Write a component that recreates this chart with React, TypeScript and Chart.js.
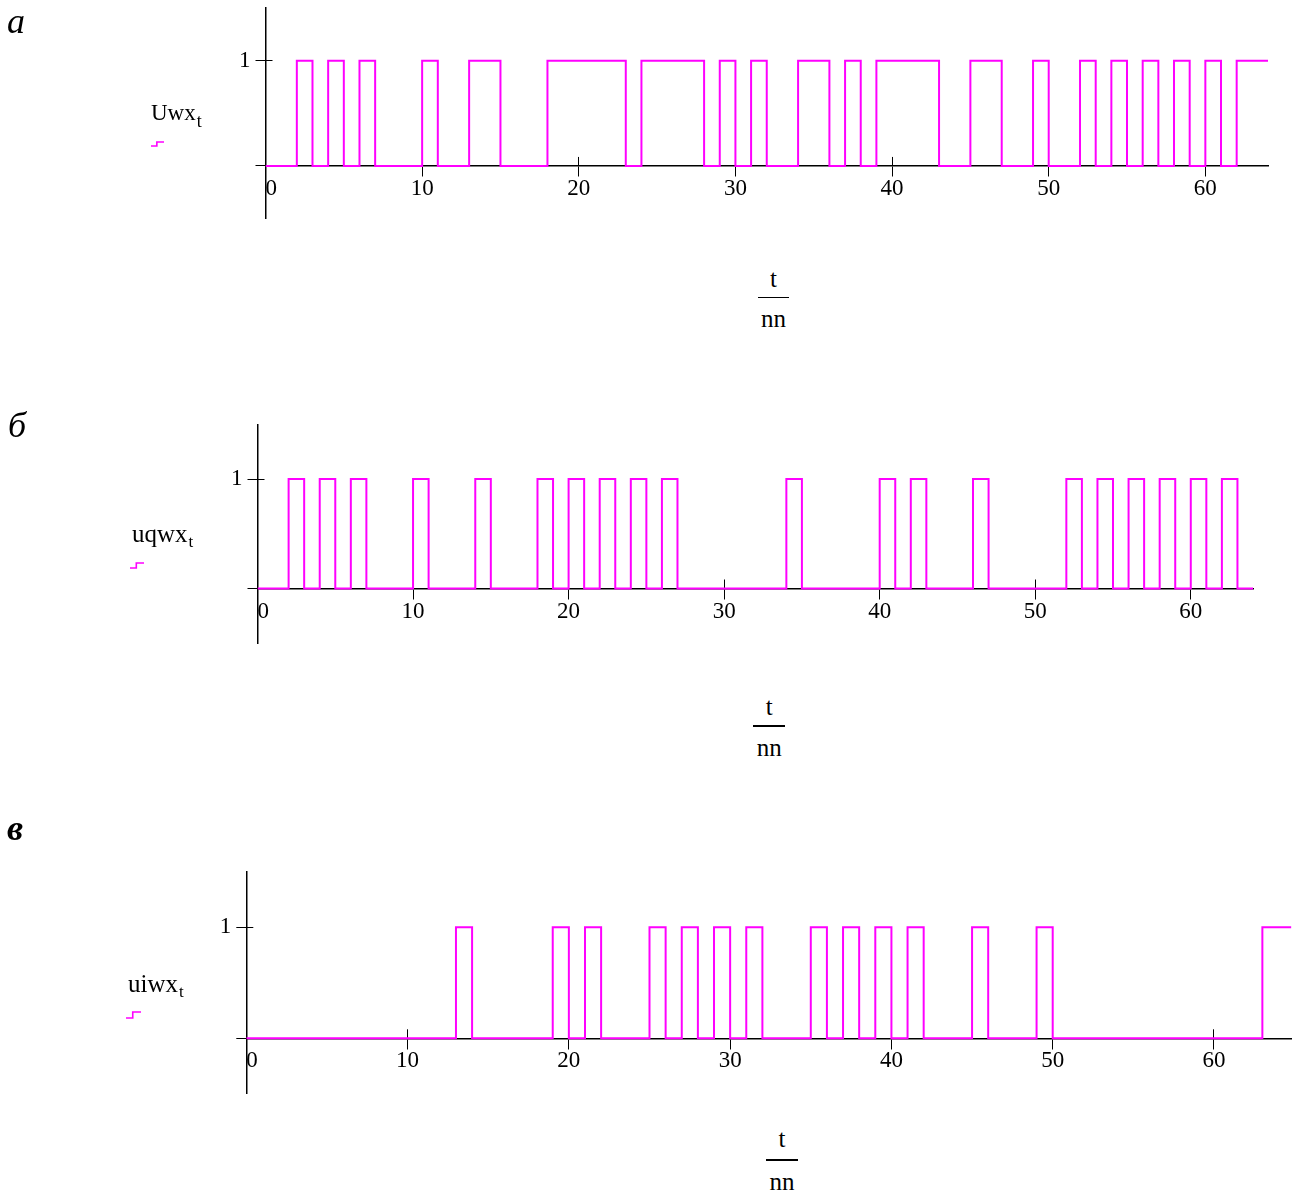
import React, { useEffect, useRef } from "react";
import { Chart, registerables } from "chart.js";

Chart.register(...registerables);

// Signal values for t = 0..63 (one value per unit of t/nn)
const uwxBits = [
  0, 0, 1, 0, 1, 0, 1, 0,
  0, 0, 1, 0, 0, 1, 1, 0,
  0, 0, 1, 1, 1, 1, 1, 0,
  1, 1, 1, 1, 0, 1, 0, 1,
  0, 0, 1, 1, 0, 1, 0, 1,
  1, 1, 1, 0, 0, 1, 1, 0,
  0, 1, 0, 0, 1, 0, 1, 0,
  1, 0, 1, 0, 1, 0, 1, 1,
];
const uqwxBits = [
  0, 0, 1, 0, 1, 0, 1, 0,
  0, 0, 1, 0, 0, 0, 1, 0,
  0, 0, 1, 0, 1, 0, 1, 0,
  1, 0, 1, 0, 0, 0, 0, 0,
  0, 0, 1, 0, 0, 0, 0, 0,
  1, 0, 1, 0, 0, 0, 1, 0,
  0, 0, 0, 0, 1, 0, 1, 0,
  1, 0, 1, 0, 1, 0, 1, 0,
];
const uiwxBits = [
  0, 0, 0, 0, 0, 0, 0, 0,
  0, 0, 0, 0, 0, 1, 0, 0,
  0, 0, 0, 1, 0, 1, 0, 0,
  0, 1, 0, 1, 0, 1, 0, 1,
  0, 0, 0, 1, 0, 1, 0, 1,
  0, 1, 0, 0, 0, 1, 0, 0,
  0, 1, 0, 0, 0, 0, 0, 0,
  0, 0, 0, 0, 0, 0, 0, 1,
];

const xTickValues = [0, 10, 20, 30, 40, 50, 60];
const yTickValues = [0, 1];
const yTickLabels = ["", "1"];
const panelLetters = ["а", "б", "в"];
const seriesNames = ["Uwx", "uqwx", "uiwx"];
const seriesSubscript = "t";
const xLabelNumerator = "t";
const xLabelDenominator = "nn";

const MAGENTA = "#ff00ff";
const SERIF = "'Liberation Serif', 'Times New Roman', serif";
const Y_BOX = 40;
const PAD_V = 30;
const CANVAS_W = 1340;

type Panel = {
  bits: number[];
  xMax: number;
  chartLeft: number;
  chartRight: number;
  chartTop: number;
  chartBottom: number;
  letter: string;
  letterLeft: number;
  letterBase: number;
  letterBold: boolean;
  name: string;
  nameLeft: number;
  nameBase: number;
  nameSize: number;
  subSize: number;
  subShift: number;
  glyphLeft: number;
  glyphHigh: number;
  glyphLow: number;
  glyphW: number;
  fracCx: number;
  fracTBase: number;
  fracLineY: number;
  fracLineW: number;
  fracNBase: number;
};

const panels: Panel[] = [
  {
    bits: uwxBits, xMax: 64,
    chartLeft: 265.5, chartRight: 1268, chartTop: 8, chartBottom: 218.6,
    letter: panelLetters[0], letterLeft: 7, letterBase: 33, letterBold: false,
    name: seriesNames[0], nameLeft: 151, nameBase: 120, nameSize: 23, subSize: 18, subShift: 7,
    glyphLeft: 151, glyphHigh: 142, glyphLow: 146, glyphW: 13,
    fracCx: 773.5, fracTBase: 287, fracLineY: 297.5, fracLineW: 31, fracNBase: 327,
  },
  {
    bits: uqwxBits, xMax: 64,
    chartLeft: 257.5, chartRight: 1253, chartTop: 424.25, chartBottom: 643.25,
    letter: panelLetters[1], letterLeft: 8, letterBase: 437, letterBold: false,
    name: seriesNames[1], nameLeft: 132, nameBase: 541.7, nameSize: 25, subSize: 17, subShift: 5,
    glyphLeft: 130, glyphHigh: 563, glyphLow: 568, glyphW: 14,
    fracCx: 769.2, fracTBase: 715, fracLineY: 726, fracLineW: 32, fracNBase: 756,
  },
  {
    bits: uiwxBits, xMax: 64.8,
    chartLeft: 246.3, chartRight: 1291.4, chartTop: 871.8, chartBottom: 1093.8,
    letter: panelLetters[2], letterLeft: 7, letterBase: 840, letterBold: true,
    name: seriesNames[2], nameLeft: 128, nameBase: 991.7, nameSize: 25, subSize: 17, subShift: 5,
    glyphLeft: 126, glyphHigh: 1012, glyphLow: 1018, glyphW: 15,
    fracCx: 782, fracTBase: 1147, fracLineY: 1160, fracLineW: 32, fracNBase: 1190,
  },
];

function align(pixel: number, width: number) {
  const h = width / 2;
  return Math.round(pixel - h) + h;
}

function PulseChart({ p }: { p: Panel }) {
  const ref = useRef<HTMLCanvasElement | null>(null);
  const canvasTop = Math.floor(p.chartTop - PAD_V);
  const canvasH = Math.ceil(p.chartBottom + PAD_V - canvasTop);

  useEffect(() => {
    const canvas = ref.current;
    if (!canvas) return;
    const pts = p.bits.map((b, t) => ({ x: t, y: b }));
    pts.push({ x: p.xMax, y: p.bits[p.bits.length - 1] });
    const tickFont = { family: SERIF, size: 23, lineHeight: 1 };

    const innerTicks = {
      id: "innerTicks",
      beforeDatasetsDraw(chart: any) {
        const xs = chart.scales.x;
        const ys = chart.scales.y;
        const ctx = chart.ctx;
        const y0 = ys.getPixelForValue(0);
        const x0 = xs.getPixelForValue(0);
        ctx.save();
        ctx.strokeStyle = "#000";
        ctx.lineWidth = 1;
        ctx.beginPath();
        for (const v of xTickValues) {
          if (v === 0) continue;
          const px = align(xs.getPixelForValue(v), 1);
          ctx.moveTo(px, y0);
          ctx.lineTo(px, y0 - 9);
        }
        for (const v of yTickValues) {
          if (v === 0) continue;
          const py = align(ys.getPixelForValue(v), 1);
          ctx.moveTo(x0, py);
          ctx.lineTo(x0 + 7, py);
        }
        ctx.stroke();
        ctx.restore();
      },
    };

    const chart = new Chart(canvas, {
      type: "line",
      data: {
        datasets: [
          {
            data: pts,
            borderColor: MAGENTA,
            borderWidth: 2,
            pointRadius: 0,
            stepped: "before",
            fill: false,
          },
        ],
      },
      options: {
        animation: false,
        responsive: false,
        maintainAspectRatio: false,
        devicePixelRatio: 1,
        events: [],
        layout: {
          padding: {
            left: p.chartLeft - Y_BOX,
            right: CANVAS_W - p.chartRight,
            top: p.chartTop - canvasTop,
            bottom: canvasTop + canvasH - p.chartBottom,
          },
        },
        plugins: {
          legend: { display: false },
          tooltip: { enabled: false },
        },
        scales: {
          x: {
            type: "linear",
            position: { y: 0 } as any,
            min: 0,
            max: p.xMax,
            afterBuildTicks: (s: any) => {
              s.ticks = [...xTickValues, p.xMax].map((v) => ({ value: v }));
            },
            border: { display: true, color: "#000", width: 1.5 },
            grid: {
              display: true,
              drawOnChartArea: false,
              drawTicks: true,
              tickLength: 10,
              lineWidth: 1,
              color: (c: any) =>
                c.tick && xTickValues.indexOf(c.tick.value) < 0 ? "rgba(0,0,0,0)" : "#000",
            },
            ticks: {
              align: "inner",
              autoSkip: false,
              maxRotation: 0,
              minRotation: 0,
              padding: 1.5,
              color: "#000",
              font: tickFont,
              callback: (v: any) => (xTickValues.indexOf(Number(v)) >= 0 ? String(v) : ""),
            },
          },
          y: {
            type: "linear",
            position: "left",
            min: -0.5,
            max: 1.5,
            afterFit: (s: any) => {
              s.width = Y_BOX;
            },
            afterBuildTicks: (s: any) => {
              s.ticks = yTickValues.map((v) => ({ value: v }));
            },
            border: { display: true, color: "#000", width: 1.5 },
            grid: {
              display: true,
              drawOnChartArea: false,
              drawTicks: true,
              tickLength: 10,
              lineWidth: 1,
              color: "#000",
            },
            ticks: {
              padding: 5,
              color: "#000",
              font: tickFont,
              callback: (v: any) => {
                const i = yTickValues.indexOf(Number(v));
                return i >= 0 ? yTickLabels[i] : "";
              },
            },
          },
        },
      },
      plugins: [innerTicks],
    } as any);
    return () => chart.destroy();
  }, []);

  return (
    <canvas
      ref={ref}
      width={CANVAS_W}
      height={canvasH}
      style={{ position: "absolute", left: 0, top: canvasTop, width: CANVAS_W, height: canvasH, display: "block" }}
    />
  );
}

function textTop(base: number, size: number) {
  return base - 0.8375 * size;
}

function PanelLabels({ p }: { p: Panel }) {
  const letterSize = 36;
  const fracSize = 25;
  return (
    <>
      <span
        style={{
          position: "absolute",
          left: p.letterLeft,
          top: textTop(p.letterBase, letterSize),
          fontFamily: SERIF,
          fontStyle: "italic",
          fontWeight: p.letterBold ? "bold" : "normal",
          fontSize: letterSize,
          lineHeight: 1,
          whiteSpace: "nowrap",
        }}
      >
        {p.letter}
      </span>
      <span
        style={{
          position: "absolute",
          left: p.nameLeft,
          top: textTop(p.nameBase, p.nameSize),
          fontFamily: SERIF,
          fontSize: p.nameSize,
          lineHeight: 1,
          whiteSpace: "nowrap",
          color: "#000",
        }}
      >
        {p.name}
        <span style={{ fontSize: p.subSize, position: "relative", top: p.subShift, marginLeft: 1 }}>
          {seriesSubscript}
        </span>
      </span>
      <svg
        style={{ position: "absolute", left: p.glyphLeft, top: p.glyphHigh - 2 }}
        width={p.glyphW + 2}
        height={p.glyphLow - p.glyphHigh + 4}
      >
        <polyline
          points={`0,${p.glyphLow - p.glyphHigh + 2} ${p.glyphW * 0.45},${p.glyphLow - p.glyphHigh + 2} ${p.glyphW * 0.45},2 ${p.glyphW},2`}
          fill="none"
          stroke={MAGENTA}
          strokeWidth={1.6}
        />
      </svg>
      <span
        style={{
          position: "absolute",
          left: p.fracCx - 50,
          width: 100,
          textAlign: "center",
          top: textTop(p.fracTBase, fracSize),
          fontFamily: SERIF,
          fontSize: fracSize,
          lineHeight: 1,
        }}
      >
        {xLabelNumerator}
      </span>
      <div
        style={{
          position: "absolute",
          left: p.fracCx - p.fracLineW / 2,
          top: p.fracLineY - 0.75,
          width: p.fracLineW,
          height: 1.5,
          background: "#000",
        }}
      />
      <span
        style={{
          position: "absolute",
          left: p.fracCx - 50,
          width: 100,
          textAlign: "center",
          top: textTop(p.fracNBase, fracSize),
          fontFamily: SERIF,
          fontSize: fracSize,
          lineHeight: 1,
        }}
      >
        {xLabelDenominator}
      </span>
    </>
  );
}

export default function App() {
  return (
    <div
      style={{
        position: "absolute",
        left: 0,
        top: 0,
        width: 1293,
        height: 1193,
        overflow: "hidden",
        background: "#fff",
      }}
    >
      {panels.map((p, i) => (
        <PulseChart key={"c" + i} p={p} />
      ))}
      {panels.map((p, i) => (
        <PanelLabels key={"l" + i} p={p} />
      ))}
    </div>
  );
}
